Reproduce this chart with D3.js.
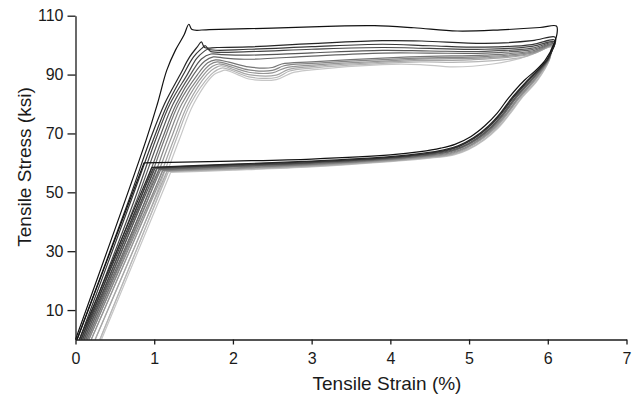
<!DOCTYPE html>
<html>
<head>
<meta charset="utf-8">
<script src="https://cdn.jsdelivr.net/npm/d3@7"></script>
<style>
  html, body { margin: 0; padding: 0; background: #fff; }
  svg { display: block; }
  .axis text { font-family: "Liberation Sans", Arial, Helvetica, sans-serif; font-size: 16px; fill: #1a1a1a; }
  .axis path, .axis line { stroke: #1a1a1a; stroke-width: 1.3; }
  .title { font-family: "Liberation Sans", Arial, Helvetica, sans-serif; font-size: 19px; fill: #1a1a1a; }
</style>
</head>
<body>
<svg id="chart" width="641" height="400"></svg>
<script>
// Cyclic tensile loading of a superelastic wire: each cycle is [strain %, stress ksi]
// loading -> upper plateau -> unloading -> lower plateau -> elastic unload (last point).
const cycle01 = [[0,0],[0.9,68],[1.04,80],[1.16,91.5],[1.27,98.3],[1.38,103.5],[1.44,107.1],[1.48,105.3],[1.7,105.3],[2.5,105.8],[3.2,106.4],[3.8,106.6],[4.3,105.9],[4.85,104.8],[5.4,105.2],[5.9,106],[6.11,106.5],[6.12,104.5],[6.08,100.5],[5.97,95],[5.85,91.5],[5.7,88],[5.5,82],[5.36,77],[5.2,72.6],[5.02,68.9],[4.82,66.3],[4.64,65],[4.38,63.8],[4.0,62.7],[3.0,61.3],[2.0,60.6],[0.87,60],[0.02,0]];
const cycle02 = [[0.02,0],[0.68,47.5],[0.95,68],[1.13,80],[1.33,90],[1.45,96],[1.55,99.5],[1.60,101.1],[1.64,99.2],[1.8,99.2],[2.2,99.4],[3.0,100.5],[3.9,101.5],[4.4,101.4],[5.2,100.6],[5.8,101.5],[6.09,102.8],[6.1,101.5],[6.07,99],[5.99,95],[5.74,88],[5.54,82],[5.40,77],[5.24,72.4],[5.06,68.6],[4.86,65.8],[4.68,64.4],[4.40,63.2],[4.0,62.1],[3.0,60.6],[2.0,59.6],[0.97,58.5],[0.05,0]];
const cycle03 = [[0.05,0],[0.71,47.5],[0.99,68],[1.17,80],[1.37,90],[1.5,96],[1.6,98.8],[1.65,99.8],[1.69,98.6],[2.2,98.6],[3.0,99.5],[3.9,100.3],[4.5,99.8],[5.2,99.3],[5.8,100.2],[6.08,101.8],[6.09,100.5],[6.06,98.5],[5.99,95],[5.75,88],[5.55,82],[5.41,77],[5.25,72.3],[5.07,68.5],[4.87,65.7],[4.69,64.2],[4.41,63.0],[4.0,61.9],[3.0,60.4],[2.0,59.4],[0.99,58.4],[0.07,0]];
const cycle04 = [[0.07,0],[0.75,47.5],[1.02,68],[1.20,80],[1.42,90],[1.54,95.5],[1.63,97.8],[1.68,98.6],[1.72,97.8],[2.2,97.8],[3.0,98.6],[3.9,99.2],[4.5,98.9],[5.2,98.6],[5.8,99.6],[6.08,101.2],[6.08,99.8],[6.05,98],[6.0,95],[5.76,88],[5.56,82],[5.42,77],[5.26,72.3],[5.08,68.5],[4.88,65.6],[4.70,64.1],[4.41,62.9],[4.0,61.8],[3.0,60.2],[2.0,59.2],[1.01,58.2],[0.09,0]];
const cycle05 = [[0.09,0],[0.78,47.5],[1.06,68],[1.24,80],[1.46,90],[1.6,95.3],[1.72,97.0],[1.85,96.8],[2.2,96.6],[3.0,97.4],[3.9,98.2],[4.5,98.0],[5.2,97.9],[5.8,99.0],[6.07,100.8],[6.07,99.5],[6.04,97.5],[6.0,95],[5.78,88],[5.58,82],[5.44,77],[5.28,72.2],[5.10,68.4],[4.90,65.4],[4.72,63.9],[4.42,62.7],[4.0,61.6],[3.0,60.0],[2.0,59.0],[1.03,58.0],[0.11,0]];
const cycle06 = [[0.11,0],[0.82,47.5],[1.10,68],[1.28,80],[1.50,90],[1.64,94.5],[1.75,96.0],[1.9,95.6],[2.2,95.2],[3.0,96.3],[3.9,97.3],[4.5,97.3],[5.2,97.3],[5.8,98.5],[6.07,100.5],[6.06,99],[6.03,97],[6.0,95],[5.79,88],[5.59,82],[5.45,77],[5.29,72.2],[5.11,68.3],[4.91,65.3],[4.73,63.7],[4.43,62.5],[4.0,61.4],[3.0,59.8],[2.0,58.8],[1.06,57.8],[0.13,0]];
const cycle07 = [[0.13,0],[0.85,47.5],[1.13,68],[1.31,80],[1.55,90],[1.68,94],[1.78,95],[1.95,94.2],[2.2,92.6],[2.5,92.4],[2.62,93.6],[3.0,94.3],[3.9,95.6],[4.5,96.2],[5.2,96.6],[5.8,98],[6.07,100.3],[6.06,98.8],[6.04,96.8],[6.01,95],[5.80,88],[5.60,82],[5.46,77],[5.30,72.1],[5.12,68.2],[4.92,65.2],[4.74,63.6],[4.43,62.4],[4.0,61.3],[3.0,59.6],[2.0,58.6],[1.08,57.6],[0.15,0]];
const cycle08 = [[0.15,0],[0.89,47.5],[1.17,68],[1.35,80],[1.59,90],[1.71,93.4],[1.8,94.3],[1.97,93.3],[2.2,91.6],[2.5,91.4],[2.65,93.0],[3.0,93.8],[3.9,95.1],[4.5,95.7],[5.2,96.1],[5.8,97.6],[6.06,100.1],[6.05,98.6],[6.03,96.6],[6.01,95],[5.82,88],[5.62,82],[5.48,77],[5.32,72.1],[5.14,68.1],[4.94,65.0],[4.76,63.4],[4.44,62.2],[4.0,61.1],[3.0,59.4],[2.0,58.3],[1.11,57.4],[0.17,0]];
const cycle09 = [[0.17,0],[0.92,47.5],[1.21,68],[1.39,80],[1.63,90],[1.74,92.8],[1.82,93.6],[2.0,92.4],[2.2,90.8],[2.5,90.6],[2.67,92.3],[3.0,93.2],[3.9,94.6],[4.5,95.3],[5.2,95.7],[5.8,97.3],[6.06,99.9],[6.05,98.4],[6.03,96.5],[6.01,95],[5.83,88],[5.63,82],[5.49,77],[5.33,72.0],[5.15,68.0],[4.95,64.9],[4.77,63.2],[4.45,62.0],[4.0,60.9],[3.0,59.2],[2.0,58.1],[1.13,57.3],[0.20,0]];
const cycle10 = [[0.20,0],[0.96,47.5],[1.25,68],[1.43,80],[1.67,90],[1.77,92.2],[1.85,93],[2.02,91.6],[2.2,90],[2.55,89.8],[2.7,91.7],[3.0,92.7],[3.9,94.2],[4.4,94.8],[5.0,95],[5.8,97],[6.05,99.7],[6.04,98.2],[6.03,96.5],[6.02,95],[5.84,88],[5.64,82],[5.50,77],[5.34,71.9],[5.16,67.9],[4.96,64.7],[4.78,63.0],[4.45,61.8],[4.0,60.7],[3.0,59.0],[2.0,57.9],[1.16,57.1],[0.25,0]];
const cycle11 = [[0.25,0],[1.00,47.5],[1.28,68],[1.46,80],[1.72,90],[1.8,91.6],[1.87,92.3],[2.04,90.8],[2.2,89.2],[2.55,89],[2.72,91.2],[3.0,92.2],[3.9,93.8],[4.4,94.3],[4.9,94.2],[5.7,96],[6.05,99.5],[6.04,98],[6.03,96.5],[6.02,95],[5.86,88],[5.66,82],[5.52,77],[5.36,71.9],[5.18,67.8],[4.98,64.6],[4.80,62.9],[4.46,61.7],[4.0,60.6],[3.0,58.8],[2.0,57.7],[1.18,57.0],[0.31,0]];
const cycle12 = [[0.31,0],[1.03,47.5],[1.32,68],[1.50,80],[1.76,90],[1.84,91],[1.9,91.5],[2.06,90],[2.2,88.5],[2.55,88.3],[2.75,90.6],[3.0,91.6],[3.9,93.4],[4.38,93.4],[4.8,92.6],[5.3,93.6],[5.65,95.5],[6.05,99.3],[6.04,97.8],[6.03,96.5],[6.02,95],[5.87,88],[5.67,82],[5.53,77],[5.37,71.8],[5.19,67.7],[4.99,64.5],[4.81,62.7],[4.47,61.5],[4.0,60.4],[3.0,58.6],[2.0,57.5],[1.21,56.8],[0.33,0]];

const cycles = [cycle01, cycle02, cycle03, cycle04, cycle05, cycle06, cycle07, cycle08, cycle09, cycle10, cycle11, cycle12];
// first cycle darkest, later cycles progressively lighter
const shades = ["#111111", "#262626", "#363636", "#464646", "#565656", "#666666", "#767676", "#868686", "#969696", "#a6a6a6", "#b6b6b6", "#c6c6c6"];

const strainTicks = [0, 1, 2, 3, 4, 5, 6, 7];
const stressTicks = [10, 30, 50, 70, 90, 110];

const svg = d3.select("#chart");
const x = d3.scaleLinear().domain([0, 7]).range([75.5, 626.5]);
const y = d3.scaleLinear().domain([0, 110]).range([339.5, 15.7]);

const smooth = d3.line()
  .x(d => x(d[0]))
  .y(d => y(d[1]))
  .curve(d3.curveCatmullRom.alpha(0.5));
const straight = d3.line()
  .x(d => x(d[0]))
  .y(d => y(d[1]));

// smooth loop from start to the lower-plateau corner, then a straight elastic unload
function cyclePath(pts) {
  const n = pts.length;
  const tail = straight(pts.slice(n - 2)).replace(/^M[^L]*/, "");
  return smooth(pts.slice(0, n - 1)) + tail;
}

// lightest first so the early (dark) cycles sit on top
svg.append("g")
  .selectAll("path")
  .data(cycles.map((c, i) => ({ pts: c, color: shades[i] })).reverse())
  .join("path")
  .attr("d", d => cyclePath(d.pts))
  .attr("fill", "none")
  .attr("stroke", d => d.color)
  .attr("stroke-width", 1.2)
  .attr("stroke-linejoin", "round");

svg.append("g")
  .attr("class", "axis")
  .attr("transform", `translate(0,${y(0)})`)
  .call(d3.axisBottom(x).tickValues(strainTicks).tickFormat(d3.format("d")).tickSize(5).tickSizeOuter(0).tickPadding(8));

svg.append("g")
  .attr("class", "axis")
  .attr("transform", `translate(${x(0)},0)`)
  .call(d3.axisLeft(y).tickValues(stressTicks).tickFormat(d3.format("d")).tickSize(8).tickSizeOuter(0).tickPadding(4));

svg.append("text")
  .attr("class", "title")
  .attr("x", 387)
  .attr("y", 390)
  .attr("text-anchor", "middle")
  .text("Tensile Strain (%)");

svg.append("text")
  .attr("class", "title")
  .attr("transform", "translate(31,167) rotate(-90)")
  .attr("text-anchor", "middle")
  .text("Tensile Stress (ksi)");
</script>
</body>
</html>
